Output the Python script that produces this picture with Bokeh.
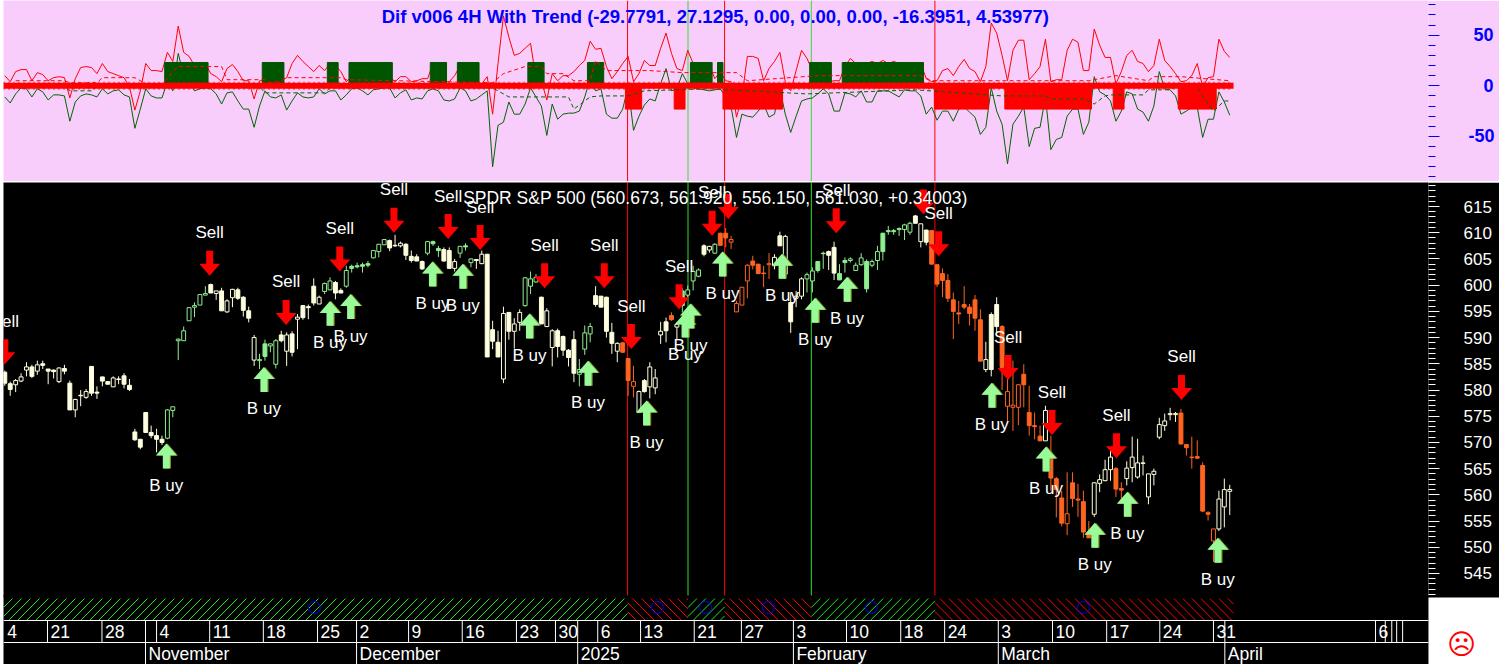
from bokeh.plotting import figure
from bokeh.layouts import column
from bokeh.models import ColumnDataSource, Range1d, LinearAxis, FixedTicker, Label
from bokeh.core.properties import value
from bokeh.embed import file_html
from bokeh.resources import INLINE

high = [
583.7,581.6,582.1,583.2,585.3,584.8,585.6,585.6,584.0,583.9,
584.3,584.8,581.8,578.3,580.0,580.2,584.5,580.7,582.5,581.6,
582.6,582.6,583.2,582.1,572.6,570.6,575.7,573.2,572.6,571.3,
576.3,576.8,589.8,592.1,595.8,596.7,598.3,599.8,600.3,598.9,
599.5,597.3,599.3,599.5,597.9,595.9,590.5,586.9,589.6,588.8,
589.7,591.3,591.0,591.2,594.5,596.2,596.3,601.3,598.0,600.5,
601.5,600.8,599.4,603.7,603.9,604.3,604.3,604.6,606.7,607.8,
608.8,608.7,609.6,608.3,608.0,606.6,605.9,604.7,608.4,608.5,
607.5,607.2,607.2,605.0,607.5,608.0,605.1,604.9,606.6,605.9,
593.2,591.3,595.9,594.8,593.7,595.4,601.5,602.6,602.1,597.8,
595.6,591.6,591.7,590.4,587.8,591.3,585.9,592.3,592.8,599.8,
597.9,597.8,592.8,589.1,589.2,586.0,584.6,579.9,582.1,585.3,
584.0,593.0,593.8,594.8,592.9,599.4,599.9,603.7,
603.2,607.8,607.5,608.0,610.0,610.9,609.4,597.0,599.6,604.0,
605.6,604.0,603.7,606.1,605.9,610.2,609.6,598.6,598.9,601.5,
602.4,603.4,604.5,606.4,606.6,608.3,604.0,605.3,605.3,604.3,
606.1,604.9,604.9,607.5,610.0,611.3,610.7,611.0,611.7,612.1,
613.4,611.7,610.6,610.5,603.9,603.2,602.1,598.6,597.0,599.8,
596.4,598.1,595.4,589.2,594.8,597.7,592.4,582.1,585.6,581.1,
584.9,580.8,575.7,573.2,577.0,
571.3,563.4,560.8,564.3,564.3,562.1,560.8,555.0,562.4,563.9,
566.7,568.5,565.3,562.4,566.4,571.1,570.7,567.5,564.0,565.0,
574.7,575.5,576.6,575.8,576.4,569.7,571.1,570.4,566.2,556.9,
553.5,560.8,563.1,561.92]

body_top = [
583.4,581.2,581.8,582.5,584.4,584.4,584.8,585.0,584.0,583.8,
584.2,584.1,581.3,578.2,579.0,579.7,584.5,579.6,582.5,581.6,
582.3,582.1,582.7,580.9,572.0,570.6,575.7,571.9,571.3,570.6,
576.2,576.8,589.7,591.3,595.7,596.1,598.2,598.4,600.1,598.9,
598.9,597.0,599.2,599.1,597.7,595.1,590.0,585.8,588.8,588.8,
589.4,590.5,590.5,590.7,593.9,596.1,595.9,599.8,597.7,600.3,
600.8,600.5,599.0,602.8,603.6,603.7,603.9,604.1,606.6,607.8,
608.7,608.5,607.6,608.0,607.8,605.5,605.4,604.5,608.3,608.3,
607.0,606.8,606.6,604.5,607.4,607.5,605.0,604.9,605.9,605.9,
591.5,589.1,594.6,594.8,592.6,594.8,601.4,601.2,601.5,597.7,
595.1,591.3,591.3,590.2,587.6,589.6,583.9,590.9,592.1,598.0,
597.9,597.7,591.0,588.9,589.0,586.0,581.6,579.7,581.8,584.4,
582.3,591.2,593.0,594.2,592.5,598.9,599.1,602.6,
602.9,607.5,607.4,607.8,609.9,609.9,608.7,596.5,599.6,603.8,
604.6,604.0,602.3,604.1,605.3,609.4,609.3,596.7,597.9,601.2,
602.0,602.7,604.5,606.1,606.4,607.2,602.2,604.7,605.0,603.8,
605.2,604.5,604.5,606.4,609.9,610.4,610.4,610.8,611.5,611.8,
613.2,611.7,610.5,610.4,603.9,602.2,600.9,597.2,594.7,596.3,
595.8,597.2,593.4,585.8,594.4,596.3,592.1,579.7,577.1,581.0,
583.0,575.7,573.2,571.2,576.1,
567.2,563.1,559.4,556.4,562.3,559.2,558.7,552.7,562.3,562.9,
564.8,567.2,565.0,561.2,565.1,567.2,566.1,566.1,564.0,564.5,
573.4,574.1,575.5,575.5,575.6,569.6,567.2,567.3,565.6,556.6,
553.5,559.2,561.0,561.03]

body_bot = [
581.3,580.1,581.0,581.7,583.8,582.6,583.6,584.7,583.6,583.5,
581.6,583.6,576.2,576.2,578.9,578.6,579.4,579.4,581.7,581.1,
580.6,582.0,581.1,580.1,570.5,569.1,571.9,571.3,570.6,570.0,
570.8,576.1,589.4,589.4,593.2,595.8,596.2,598.1,598.5,598.4,
595.1,594.9,597.6,597.5,595.2,593.7,585.7,585.6,586.4,588.4,
584.9,589.4,587.4,587.2,593.5,593.8,595.7,596.6,596.4,598.8,
599.1,598.5,598.5,599.8,603.2,603.5,603.6,603.8,605.2,606.4,
607.7,607.1,607.5,607.5,605.7,604.7,604.6,603.1,606.1,607.9,
606.6,604.6,603.2,603.2,606.1,607.3,604.3,604.7,604.1,586.3,
589.3,586.3,582.1,591.2,591.2,592.9,596.1,599.8,600.6,592.6,
592.1,588.1,588.3,587.6,586.2,583.2,583.0,587.8,590.7,596.3,
595.8,591.2,588.9,587.4,587.2,581.8,580.7,575.7,579.7,580.6,
580.4,590.5,591.3,593.4,592.0,596.1,598.1,600.8,
601.7,605.9,606.7,606.1,607.6,609.0,608.2,594.9,596.2,600.8,
603.8,602.2,602.2,603.9,603.7,607.5,602.1,593.0,597.5,597.9,
601.2,600.8,602.8,606.0,605.7,602.3,601.0,604.3,604.7,602.8,
603.9,599.3,603.8,604.7,606.4,610.2,610.2,610.6,610.6,610.1,
611.8,608.3,608.2,604.0,600.2,600.9,597.5,595.0,594.5,595.8,
594.6,593.7,585.5,583.9,583.9,592.1,584.3,576.9,576.7,576.7,
581.0,573.2,573.0,570.3,570.3,
563.2,561.0,554.6,554.5,559.3,559.0,552.9,551.8,556.3,562.2,
562.7,564.8,561.1,560.9,563.1,565.2,563.4,566.0,559.6,563.9,
571.0,573.2,575.3,575.3,569.7,569.0,567.1,567.0,556.9,556.3,
551.2,553.5,557.7,560.67]

low = [
580.8,578.9,579.6,581.5,582.6,582.3,582.9,584.0,581.1,582.2,
581.3,583.0,576.2,574.8,576.9,578.3,578.9,578.3,580.7,581.1,
580.6,581.1,580.3,579.8,570.3,568.7,571.9,570.8,568.1,569.5,
570.6,574.8,585.7,589.4,593.2,593.9,596.2,598.1,598.5,597.2,
595.1,594.7,595.8,597.2,594.0,592.9,584.6,584.0,585.6,587.2,
584.1,589.1,584.6,586.4,587.8,593.4,593.5,596.1,596.4,598.3,
599.1,597.3,598.5,599.5,602.4,603.2,602.4,603.4,605.1,605.3,
607.7,606.5,607.3,607.2,604.8,604.3,604.6,602.9,605.7,607.5,
605.4,604.5,603.1,602.6,605.2,606.6,603.4,603.1,604.0,586.3,
587.8,586.3,581.3,589.6,587.9,591.3,595.9,598.3,600.5,592.6,
592.0,584.5,586.2,586.5,584.5,581.5,580.7,586.7,589.1,595.9,
595.8,590.0,586.9,585.3,587.1,578.9,578.6,575.6,579.5,578.4,
579.2,588.8,589.1,593.2,589.7,594.8,597.7,599.0,
601.5,605.5,606.2,605.9,607.6,607.2,606.9,594.9,596.2,597.5,
603.0,602.1,599.6,601.2,603.0,607.5,601.2,590.9,595.8,597.3,
598.6,598.6,602.4,603.1,602.9,601.0,601.0,602.4,604.3,602.8,
603.7,598.6,603.4,602.9,604.7,609.6,609.6,609.4,608.6,609.6,
611.8,607.2,607.6,604.0,599.6,597.7,596.8,589.7,592.6,595.4,
592.3,591.3,585.5,583.4,582.6,591.0,580.0,574.1,572.2,573.3,
576.7,571.3,570.6,570.3,570.3,
560.8,555.7,554.0,552.3,557.7,555.8,551.8,551.8,555.8,560.5,
562.6,562.7,559.6,558.6,561.8,562.4,563.1,563.7,558.2,561.8,
570.6,572.2,574.2,573.9,569.6,567.5,565.0,566.9,556.7,555.1,
547.2,553.1,553.8,556.15]

# c/w cream filled/hollow, g/G green filled/hollow, o/O orange filled/hollow
kinds = list(
"ccwwwcwcccwccwcwccccwccccccccc"
"GGGGGGGGcwcwwcccwGgGGcwcwcccwGGccG"
"ggggGGGccwccccGggccwGgGcwcccwcwwGGGcwwccccGGGccccwooOwcwwwcowgG"
"GGcwGooOOOOoooOwcwcwwGGggccggGGGgGGgggGGGcwcoooooooooowccoOOOoooow"
"oooOoooowwwwoowwwwwwwwwwooooooOwww")

red_line = [
10,4,14,16,16,5,13,11,5,8, 9,8,-12,7,18,19,18,12,22,14,
12,10,8,-1,-24,-5,22,15,15,14, 33,24,59,33,29,20,20,22,12,9,
4,17,21,14,5,5,-13,5,5,10, 15,5,8,22,30,24,19,14,20,15,
22,20,14,4,9,19,12,15,19,14, 7,9,4,9,9,4,5,7,7,22,
12,4,4,10,20,14,7,4,2,9, -28,22,69,48,30,32,37,42,7,5,
-14,12,5,10,10,14,20,25,44,36, 37,19,7,14,22,29,4,12,25,20,
20,37,52,32,17,15,35,22,22,22, 20,7,14,5,4,-31,-11,29,29,27,
5,17,24,33,4,-5,15,35,27,15, 5,5,4,5,5,19,27,22,22,22,
24,22,25,22,24,22,22,22,22,22, 7,4,5,15,17,10,19,26,17,14,
4,19,62,52,30,5,35,45,45,6, 12,19,46,4,6,6,35,46,43,15,
15,56,40,28,28,2,14,30,35,24, 22,14,20,46,25,19,12,4,5,10,
22,-1,8,9,46,34,28]

green_line = [
-11,-17,-8,-2,-3,-11,-3,-6,-14,-9, -9,-10,-35,-16,-10,-8,-9,-11,-3,-8,
-5,-4,-9,-11,-42,-23,-3,-10,-12,-12, 4,-5,32,10,5,-5,-3,-2,-3,-8,
-18,-7,-6,-15,-23,-23,-41,-20,-5,-11, -12,-9,-24,-15,-7,-11,-12,-11,-3,-8,
-5,-5,-14,-9,-3,-2,-5,-9,-4,-3, -2,-2,-12,-7,-4,-14,-12,-13,-5,-3,
-5,-14,-15,-13,-2,-5,-15,-13,-9,-5, -80,-39,-36,-16,-28,-28,-18,-2,-11,-20,
-49,-18,-33,-28,-27,-27,-25,-11,7,-5, -3,-28,-32,-32,-23,-1,-44,-30,-19,-13,
-15,2,17,-5,-3,12,2,-2,-3,-4, -5,-4,-3,-11,-21,-51,-28,-30,-31,-25,
-18,-31,-28,-3,-28,-46,-30,-15,-13,-12, -8,-3,-8,-25,-25,-7,-8,-11,-5,-16,
-16,-5,-5,-5,-8,-11,-4,-5,-5,-10, -28,-21,-34,-25,-25,-35,-23,-21,-26,-31,
-48,-41,-2,-25,-38,-77,-38,-30,-21,-60, -42,-41,-11,-63,-53,-51,-30,-23,-23,-48,
-36,9,-6,-9,-15,-35,-25,-6,-8,-23, -26,-35,-20,14,-3,-4,-10,-28,-25,-21,
-21,-51,-33,-33,-6,-16,-29]

red_dash_bars = [2,11,12,17,18,24,26,29,30,31,32,40,41,48,49,51,52,62,63,90,92,96,99,100,103,105,108,109,111,115,119,125,135,137,150,169,171,200,205,211,212,217,226]
red_dash_vals = [5,5,3,3,8,8,2,2,7,14,19,19,6,6,3,5,8,8,6,3,12,19,19,12,12,5,5,25,15,15,15,13,13,5,10,10,5,5,10,5,9,9,5]
green_dash_bars = [0,11,12,16,17,47,48,59,60,90,93,97,102,104,105,108,110,115,118,130,148,168,184,192,193,199,201,203,204,210,211,215,216,220,221,223,225,226]
green_dash_vals = [-1,-1,-5,-5,-1,-1,-7,-7,-2,-2,-11,-11,-11,-11,-23,-11,-10,-10,-5,-3,-8,-4,-10,-10,-13,-13,-18,-10,-9,-9,-4,-4,-1,-1,-10,-25,-15,-15]

green_hist_bars = [30,31,32,33,34,35,36,37,48,49,50,51,60,61,64,65,66,67,68,69,70,71,79,80,81,84,85,86,87,97,98,99,108,109,110,127,128,129,130,132,149,150,151,152,155,156,157,158,159,160,161,162,163,164,165,166,167,168,169]
red_hist_bars = [115,116,117,124,125,133,134,135,136,137,138,139,140,141,142,143,172,173,174,175,176,177,178,179,180,181,185,186,187,188,189,190,191,192,193,194,195,196,197,198,199,200,205,206,217,218,219,220,221,222,223]
hist_level = 23

red_signals = [114.9, 132.8, 171.6]
green_signals = [126.05, 148.8]

sell_bars = [0,37.8,51.9,61.8,71.8,81.8,87.7,99.6,110.6,115.6,124.4,130.5,133.5,153.4,169.5,172.3,185.1,193.2,205.1,217.1]
sell_prices = [584.9,601.8,592.4,602.6,610,608.8,606.7,599.4,599.4,587.8,595.4,609.4,612.6,609.9,613.5,605.5,581.9,571.4,567,578.1]
sell_label_bars = [0,37.8,51.9,61.8,71.8,81.8,87.7,99.6,110.6,115.6,124.4,130.5,153.4,172.3,185.1,193.2,205.1,217.1]
sell_label_prices = [584.9,601.8,592.4,602.6,610,608.8,606.7,599.4,599.4,587.8,595.4,609.4,609.9,605.5,581.9,571.4,567,578.1]
buy_bars = [29.8,47.8,60,63.8,78.9,84.5,96.8,107.6,118.4,125.5,126.5,132.4,143.4,149.5,155.4,182.1,192.1,201.1,207.1,223.8]
buy_prices = [569.8,584.4,597,598.3,604.5,604.1,594.6,585.6,578,594.8,596.5,606.4,606,597.6,601.6,581.4,569.2,554.7,560.6,551.8]

day_ticks = [7.88,17.93,25.96,28,37.8,47.7,57.7,64.9,74.5,84.4,94.4,101.6,105.7,109.4,117.3,127.2,135.9,145.5,155.3,165.3,173.4,183.3,193.3,203.3,213.1,223,225.1,252.9,254.7,255.9,256.8,257.9]
day_label_bars = [-0.1,7.88,17.93,28,37.8,47.7,57.7,64.9,74.5,84.4,94.4,101.6,109.4,117.3,127.2,135.9,145.5,155.3,165.3,173.4,183.3,193.3,203.3,213.1,223,252.9]
day_labels = ["4","21","28","4","11","18","25","2","9","16","23","30","6","13","21","27","3","10","18","24","3","10","17","24","31","6"]
month_bars = [25.96,64.9,105.7,145.5,183.3,225.1]
month_labels = ["November","December","2025","February","March","April"]
trend_starts = [-0.24,114.9,126.05,132.8,148.8,171.6]
trend_ends = [114.9,126.05,132.8,148.8,171.6,226.7]
trend_state = ["up","down","up","down","up","down"]
face_bars = [57.1,120.4,129.3,140.9,159.9,199]

title_text = "Dif v006 4H With Trend (-29.7791, 27.1295, 0.00, 0.00, 0.00, -16.3951, 4.53977)"
price_title = "SPDR S&P 500 (560.673, 561.920, 556.150, 561.030, +0.34003)"

FONT = value("Liberation Sans")
PINK = "#F9CDFB"
CREAM = "#FFFFE0"
LGREEN = "#90EE90"
ORANGE = "#FF6420"
PX_BAR = 5.42
PX_USD = 5.243
palette = {"c": CREAM, "w": CREAM, "g": LGREEN, "G": LGREEN, "o": ORANGE, "O": ORANGE}

X_END = 262.67
x_range = Range1d(-0.24, X_END)
bars = list(range(len(high)))

def base(height, xr, yr, bg, border, right, **kw):
    p = figure(width=1496, height=height, x_range=xr, y_range=yr,
               output_backend="svg", toolbar_location=None,
               x_axis_location=None, y_axis_location=None,
               min_border_left=0, min_border_top=0, min_border_bottom=0, min_border_right=right,
               background_fill_color=bg, border_fill_color=border, outline_line_color=None, **kw)
    p.grid.visible = False
    return p

def arrow(bar, price, direction, dx=0.0):
    sx = [0, 10.5, 3.5, 3.5, -3.5, -3.5, -10.5]
    sy = [0, 12, 12, 25, 25, 12, 12]
    return ([bar + (v + dx) / PX_BAR for v in sx],
            [price - direction * v / PX_USD for v in sy])

def hatch_lines(left, right, rising, top_row=1, bottom_row=23, pitch=9 / PX_BAR):
    """Diagonal strokes of the trend band, clipped to one trend span."""
    lean = (bottom_row - top_row) / PX_BAR
    xs0, xs1 = [], []
    start = left - lean
    while start < right:
        a, b = start, start + lean
        xs0.append(a)
        xs1.append(b)
        start += pitch
    x0, x1, y0, y1 = [], [], [], []
    for a, b in zip(xs0, xs1):
        ca, cb = max(a, left), min(b, right)
        if cb <= ca:
            continue
        fa, fb = (ca - a) / (b - a), (cb - a) / (b - a)
        if rising:
            ya, yb = bottom_row - fa * (bottom_row - top_row), bottom_row - fb * (bottom_row - top_row)
        else:
            ya, yb = top_row + fa * (bottom_row - top_row), top_row + fb * (bottom_row - top_row)
        x0.append(ca); x1.append(cb); y0.append(ya); y1.append(yb)
    return x0, x1, y0, y1

# ---------- indicator pane ----------
top = base(181, x_range, Range1d(-94.5, 84.2), PINK, PINK, 71)
top.segment(x0=red_signals, x1=red_signals, y0=[-94.5]*3, y1=[84.2]*3, line_color="#FF0000", line_width=1)
top.segment(x0=green_signals, x1=green_signals, y0=[-94.5]*2, y1=[84.2]*2, line_color="#33DD33", line_width=1)
top.line(bars[:len(red_line)], red_line, line_color="#FF0000", line_width=1)
top.line(bars[:len(green_line)], green_line, line_color="#006400", line_width=1)
top.vbar(x=green_hist_bars, top=[hist_level]*len(green_hist_bars), bottom=0, width=1.0, fill_color="#005500", line_color="#005500")
top.vbar(x=red_hist_bars, top=[-hist_level]*len(red_hist_bars), bottom=0, width=1.0, fill_color="#FF0000", line_color="#FF0000")
top.line(red_dash_bars, red_dash_vals, line_color="#FF0000", line_width=1, line_dash="4 3")
top.line(green_dash_bars, green_dash_vals, line_color="#006400", line_width=1, line_dash="4 3")
top.line([-0.24, 226.7], [0, 0], line_color="#FF0000", line_width=6)
top.line([-0.24, 226.7], [0, 0], line_color="#FF0000", line_width=8, line_dash="1 4")
axis_top = LinearAxis(ticker=FixedTicker(ticks=[-50, 0, 50], minor_ticks=[-90,-80,-70,-60,-40,-30,-20,-10,10,20,30,40,60,70,80]),
                      axis_line_color=None, major_tick_in=0, major_tick_out=11, minor_tick_in=0, minor_tick_out=7,
                      major_tick_line_color="#0000FF", minor_tick_line_color="#0000FF",
                      major_label_text_color="#0000FF", major_label_text_font="Liberation Sans",
                      major_label_text_font_style="bold", major_label_text_font_size="18px",
                      major_label_overrides={50: "\u200850", 0: "\u2007\u20080", -50: "-50"},
                      major_label_standoff=29)
top.add_layout(axis_top, "right")
top.add_layout(Label(x=131.1, y=68, text=title_text, text_align="center", text_baseline="middle",
                     text_color="#0000FF", text_font="Liberation Sans", text_font_style="bold", text_font_size="18.5px"))

# ---------- price pane ----------
main = base(415, x_range, Range1d(540.42, 619.58), "#000000", "#000000", 71, margin=(1, 0, 0, 0))
main.segment(x0=red_signals, x1=red_signals, y0=[540.42]*3, y1=[619.58]*3, line_color="#FF0000", line_width=1)
main.segment(x0=green_signals, x1=green_signals, y0=[540.42]*2, y1=[619.58]*2, line_color="#33DD33", line_width=1)
src = ColumnDataSource(dict(
    x=bars, high=high, low=low, top=body_top, bot=body_bot,
    color=[palette[k] for k in kinds],
    fill=["#000000" if k in "wGO" else palette[k] for k in kinds]))
main.segment(x0="x", x1="x", y0="low", y1="high", line_color="color", line_width=1, source=src)
main.vbar(x="x", top="top", bottom="bot", width=0.72, fill_color="fill", line_color="color", line_width=1, source=src)
sx, sy = zip(*[arrow(b, v, -1) for b, v in zip(sell_bars, sell_prices)])
main.patches(list(sx), list(sy), fill_color="#FF0000", line_color=None)
ox, oy = zip(*[arrow(b, v, 1, 1.2) for b, v in zip(buy_bars, buy_prices)])
main.patches(list(ox), list(oy), fill_color="#7C8C20", line_color=None)
bx, by = zip(*[arrow(b, v, 1) for b, v in zip(buy_bars, buy_prices)])
main.patches(list(bx), list(by), fill_color="#98FB98", line_color=None)
main.text(x=sell_label_bars, y=sell_label_prices, text=["Sell"]*len(sell_label_bars), text_color="#FFFFFF", text_font=FONT,
          text_font_size="17px", text_align="center", text_baseline="middle", y_offset=-43)
main.text(x=buy_bars, y=buy_prices, text=["B uy"]*len(buy_bars), text_color="#FFFFFF", text_font=FONT,
          text_font_size="17px", text_align="center", text_baseline="middle", y_offset=42)
price_ticks = list(range(545, 620, 5))
axis_main = LinearAxis(ticker=FixedTicker(ticks=price_ticks, minor_ticks=[v for v in range(541, 620) if v % 5]),
                       axis_line_color=None, major_tick_in=0, major_tick_out=11, minor_tick_in=0, minor_tick_out=7,
                       major_tick_line_color="#FFFFFF", minor_tick_line_color="#FFFFFF",
                       major_label_text_color="#FFFFFF", major_label_text_font="Liberation Sans",
                       major_label_text_font_size="17px", major_label_standoff=24)
main.add_layout(axis_main, "right")
main.add_layout(Label(x=131.1, y=616.7, text=price_title, text_align="center", text_baseline="middle",
                      text_color="#FFFFFF", text_font="Liberation Sans", text_font_size="17.5px"))

# ---------- trend band and date tiers (rows counted down from the pane top) ----------
bottom = base(69, Range1d(-0.24, -0.24 + 1496 / PX_BAR), Range1d(67, -2), "#000000", "#FFFFFF", 0,
              styles={"position": "absolute", "left": "3px", "top": "595px"})
bottom.quad(left=[X_END], right=[290], top=[0], bottom=[70], fill_color="#FFFFFF", line_color=None)
for state, color in (("up", "#1CE81C"), ("down", "#FF0000")):
    for s, e, t in zip(trend_starts, trend_ends, trend_state):
        if t == state:
            x0, x1, y0, y1 = hatch_lines(s, e, state == "up")
            bottom.segment(x0=x0, x1=x1, y0=y0, y1=y1, line_color=color, line_width=1)
bottom.scatter(face_bars, [10]*len(face_bars), marker="circle", size=12, fill_color=None, line_color="#0000FF", line_width=1)
bottom.segment(x0=[-0.24, -0.24], x1=[X_END, X_END], y0=[23, 45], y1=[23, 45], line_color="#FFFFFF", line_width=1)
bottom.segment(x0=day_ticks, x1=day_ticks, y0=[23]*len(day_ticks), y1=[45]*len(day_ticks), line_color="#FFFFFF", line_width=1)
bottom.segment(x0=month_bars, x1=month_bars, y0=[45]*len(month_bars), y1=[67]*len(month_bars), line_color="#FFFFFF", line_width=1)
bottom.text(x=day_label_bars, y=[34]*len(day_labels), text=day_labels, text_color="#FFFFFF", text_font=FONT,
            text_font_size="17.5px", text_align="left", text_baseline="middle", x_offset=3)
bottom.text(x=month_bars, y=[56]*len(month_labels), text=month_labels, text_color="#FFFFFF", text_font=FONT,
            text_font_size="17.5px", text_align="left", text_baseline="middle", x_offset=3)
bottom.text(x=[268.8], y=[47], text=["\u2639"], text_color="#FF0000", text_font=value("DejaVu Sans"),
            text_font_size="28px", text_align="center", text_baseline="middle")

page = column(top, main, spacing=0, styles={"position": "absolute", "left": "3px", "top": "0px"})
open("out.html", "w").write(file_html([page, bottom], INLINE))
